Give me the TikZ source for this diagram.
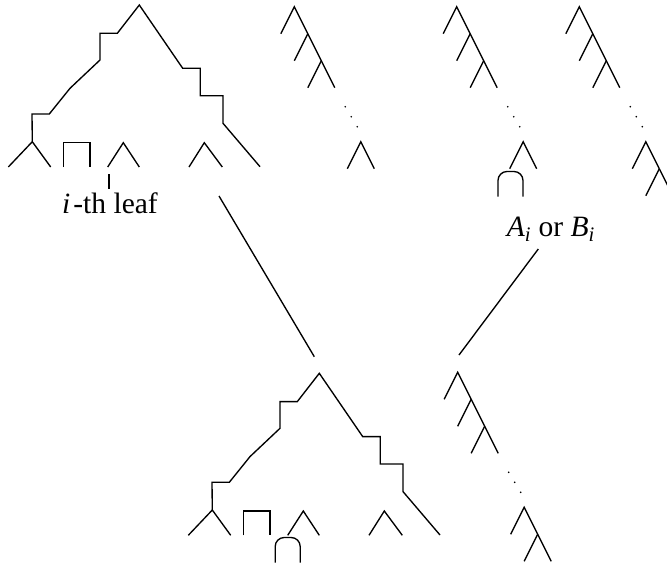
\documentclass[tikz,border=0pt]{standalone}
\usepackage{fontspec}
\setmainfont{Liberation Serif}
\tikzset{
  treeline/.style={line width=1.35pt, line join=miter},
  lbl/.style={font=\fontsize{29.5}{33}\selectfont, inner sep=0pt, anchor=base},
  dotmark/.style={fill=black, draw=none},
  chaintop/.pic={
    \draw[treeline] (-13.5,27) -- (0,0) -- (40.5,81);
    \draw[treeline] (13.5,27) -- (0,54);
    \draw[treeline] (27,54) -- (13.5,81);
    \foreach \dx/\dy in {51/100,57/110,63/120}
      \fill[dotmark] (\dx,\dy) circle[radius=0.9pt];
    \draw[treeline] (53,162) -- (66.5,135) -- (80,162);
  },
  chainext/.pic={
    \draw[treeline] (80,162) -- (93.5,189);
    \draw[treeline] (80,162) -- (66.5,189);
  },
  archpic/.pic={
    \draw[treeline, rounded corners=9pt] (-12.5,25) -- (-12.5,0) -- (12.5,0) -- (12.5,25);
  },
  bigtree/.pic={
    \draw[treeline] (-131,162) -- (-107,136.7) -- (-88.6,162);
    \draw[treeline] (-107,136.7) -- (-107.3,109) -- (-90,109) -- (-69.3,83.3)
      -- (-39.3,55) -- (-39.3,28.3) -- (-22,28.3) -- (0,0) -- (43.4,63.3)
      -- (61,63.3) -- (61,90.7) -- (83.7,90.7) -- (83.7,118.3) -- (120.7,161.7);
    \draw[treeline] (-76,162) -- (-76,137.7) -- (-49.3,137.7) -- (-49.3,162);
    \draw[treeline] (-31.6,162) -- (-16,137.7) -- (0,162);
    \draw[treeline] (49.7,162) -- (65,137.7) -- (83,162);
  }
}
\begin{document}
\begin{tikzpicture}[x=1pt, y=-1pt]
  \useasboundingbox (0,0) rectangle (667,563);
  \clip (0,0) rectangle (667,563);
  % top row
  \pic at (139.3,5) {bigtree};
  \pic at (294.3,6.7) {chaintop};
  \pic at (456.7,6.7) {chaintop};
  \pic at (510.5,171.5) {archpic};
  \pic at (579.3,6.7) {chaintop};
  \pic at (579.3,6.7) {chainext};
  % bottom row
  \pic at (319.3,373.3) {bigtree};
  \pic at (287.7,537.5) {archpic};
  \pic at (457.7,372.3) {chaintop};
  \pic at (457.7,372.3) {chainext};
  % labels
  \node[lbl] (leaf) at (110,213.3) {\textit{i}\kern3pt-th leaf};
  \node[lbl] (ab) at (550.8,236.7) {\textit{A}\textsubscript{\textit{i}} or \textit{B}\textsubscript{\textit{i}}};
  \coordinate (mka) at (109,174);
  \coordinate (mkb) at (109,189);
  \draw[treeline] (mka) -- (mkb);
  \coordinate (l1a) at (219,196);
  \coordinate (l1b) at (314.3,356.7);
  \coordinate (l2a) at (538.3,249);
  \coordinate (l2b) at (459,355);
  \draw[treeline] (l1a) -- (l1b);
  \draw[treeline] (l2a) -- (l2b);
\end{tikzpicture}
\end{document}
